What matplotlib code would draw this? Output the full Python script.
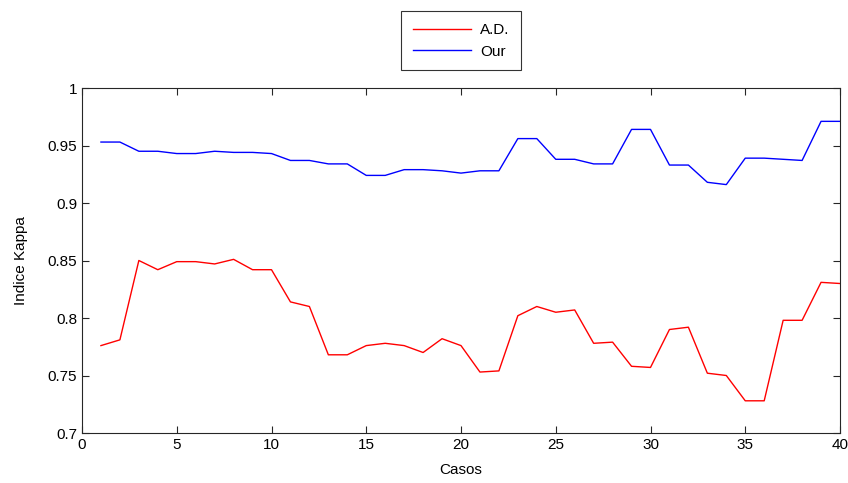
import matplotlib.pyplot as plt
import numpy as np
from matplotlib.ticker import FormatStrFormatter

plt.rcParams['font.family'] = ['Liberation Sans', 'DejaVu Sans']

# Datos
casos = np.arange(1, 41)
ad = [0.776, 0.781, 0.850, 0.842, 0.849, 0.849, 0.847, 0.851, 0.842, 0.842,
      0.814, 0.810, 0.768, 0.768, 0.776, 0.778, 0.776, 0.770, 0.782, 0.776,
      0.753, 0.754, 0.802, 0.810, 0.805, 0.807, 0.778, 0.779, 0.758, 0.757,
      0.790, 0.792, 0.752, 0.750, 0.728, 0.728, 0.798, 0.798, 0.831, 0.830]
our = [0.953, 0.953, 0.945, 0.945, 0.943, 0.943, 0.945, 0.944, 0.944, 0.943,
       0.937, 0.937, 0.934, 0.934, 0.924, 0.924, 0.929, 0.929, 0.928, 0.926,
       0.928, 0.928, 0.956, 0.956, 0.938, 0.938, 0.934, 0.934, 0.964, 0.964,
       0.933, 0.933, 0.918, 0.916, 0.939, 0.939, 0.938, 0.937, 0.971, 0.971]

fig = plt.figure(figsize=(8.48, 4.83), dpi=100)
ax = fig.add_axes([82/848, 1 - 433/483, (840-82)/848, (433-88)/483])

ax.plot(casos, ad, color='#ff0000', lw=1, label='A.D.')
ax.plot(casos, our, color='#0000ff', lw=1, label='Our')

ax.set_xlim(0, 40)
ax.set_ylim(0.7, 1)
ax.set_xticks(np.arange(0, 41, 5))
ax.set_yticks(np.arange(0.7, 1.001, 0.05))
ax.yaxis.set_major_formatter(FormatStrFormatter('%g'))
ax.tick_params(direction='in', top=True, right=True, length=5,
               labelsize=11, color='#262626', labelcolor='#000000')
for s in ax.spines.values():
    s.set_color('#262626')
    s.set_linewidth(0.8)

ax.set_xlabel('Casos', fontsize=11, labelpad=8)
ax.set_ylabel('Indice Kappa', fontsize=11, labelpad=14)

leg = ax.legend(loc='lower center', bbox_to_anchor=(0.5, 1.03), fontsize=11,
                frameon=True, fancybox=False, edgecolor='#000000',
                handlelength=3.8, handletextpad=0.6, borderpad=0.75,
                labelspacing=0.5)
leg.get_frame().set_linewidth(0.8)

fig.savefig('out.png', dpi=100)
